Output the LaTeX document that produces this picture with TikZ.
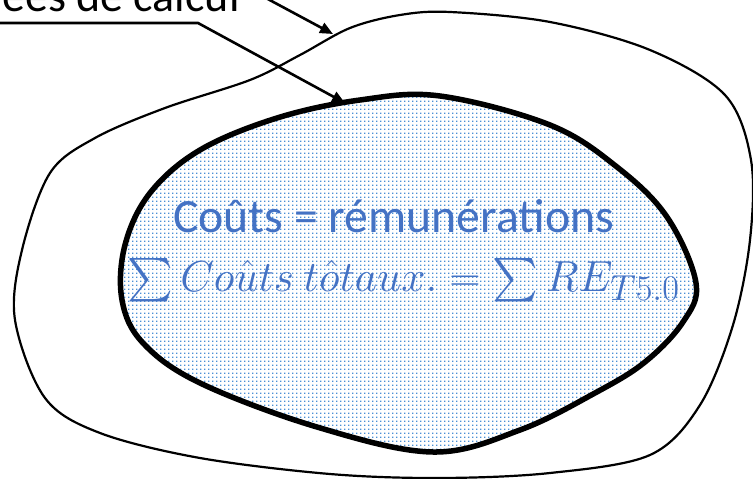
\documentclass[tikz,border=0pt]{standalone}
\usepackage{graphicx}
\usepackage{exscale}
\usepackage{fontspec}
\setmainfont{Carlito}
\usetikzlibrary{arrows.meta,patterns}
\pgfdeclarepatternformonly{bigdots}{\pgfpointorigin}{\pgfpoint{4.3pt}{4.3pt}}{\pgfpoint{4.3pt}{4.3pt}}{\pgfpathrectangle{\pgfpointorigin}{\pgfpoint{1.5pt}{1.5pt}}\pgfusepath{fill}}
\definecolor{txtblue}{RGB}{68,114,196}
\definecolor{dotblue}{RGB}{74,144,214}
\tikzset{
  outerblob/.style={draw=black,line width=2.2pt},
  innerblob/.style={draw=black,line width=5.5pt,pattern=bigdots,pattern color=dotblue},
  pointer/.style={draw=black,line width=2.6pt,-{Triangle[length=13pt,width=11pt]}},
  lbl/.style={inner sep=0pt,font=\fontsize{46}{50}\selectfont},
  blue1/.style={inner sep=0pt,text=txtblue,font=\fontsize{47.7}{52}\selectfont}
}
\begin{document}
\begin{tikzpicture}[x=1pt,y=-1pt]
\useasboundingbox (0,0) rectangle (753,479);
\clip (0,0) rectangle (753,479);
\fill[white] (0,0) rectangle (753,479);
% outer blob
\draw[outerblob] plot[smooth cycle,tension=0.55] coordinates {
 (450,12) (550,22) (650,50) (725,95) (751,160) (750,240) (733,325) (700,405) (650,455) (550,473) (440,478) (330,474) (200,458) (100,433) (45,398) (15,320) (22,250) (50,173) (95,138) (165,108) (250,80) (300,55) (350,28) (400,15)};
% inner blob
\draw[innerblob] plot[smooth cycle,tension=0.6] coordinates {
 (440,96) (550,125) (617,167) (667,217) (696,283) (683,322) (645,362) (595,393) (520,430) (433,452) (317,427) (200,383) (143,343) (122,300) (125,245) (150,193) (200,150) (277,118) (360,100)};
% texts
\node[lbl,anchor=base west] (lab) at (2,12) {ées de calcul};
\node[blue1,anchor=base] (t1) at (393.5,232) {Coûts = rémunérations};
\node[inner sep=0pt,anchor=base,text=txtblue,font=\fontsize{24.88}{30}\selectfont] (t2) at (403.5,291) {\scalebox{1.746}{$\textstyle\sum Co\hat{u}ts\ t\hat{o}taux.=\sum RE_{T5.0}$}};
% pointers
\coordinate (s1) at (251,-10);
\coordinate (e1) at (333,34);
\coordinate (s0) at (-5,23);
\coordinate (b0) at (198,23);
\coordinate (e2) at (345,103);
\draw[pointer] (s1) -- (e1);
\draw[pointer,line join=miter] (s0) -- (b0) -- (e2);
\end{tikzpicture}
\end{document}
